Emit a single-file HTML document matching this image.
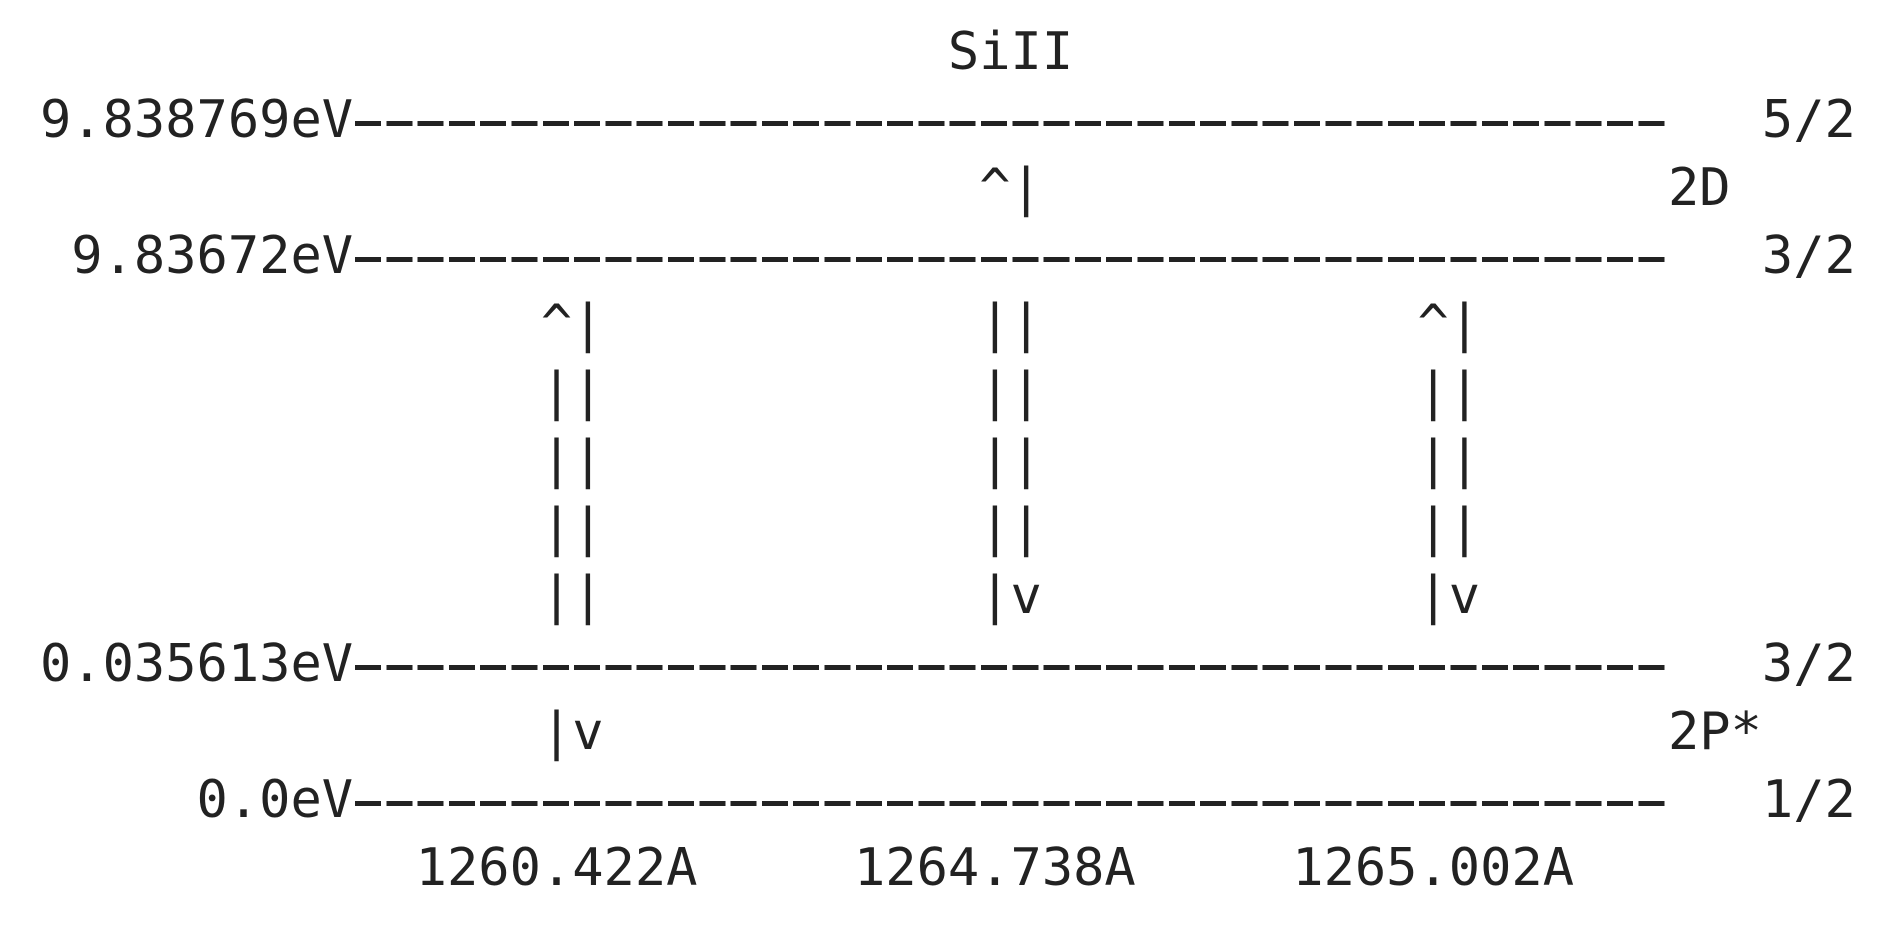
<!DOCTYPE html>
<html>
<head>
<meta charset="utf-8">
<style>
  html, body { margin:0; padding:0; background:#ffffff; width:1886px; height:926px; overflow:hidden; }
  pre {
    position:absolute; left:40px; top:18px; margin:0;
    font-family:"DejaVu Sans Mono", "Liberation Mono", monospace;
    font-size:52px; line-height:68px; color:#222222;
  }
  .d {
    color:transparent;
    background-image:repeating-linear-gradient(90deg, transparent 0 2px, #222 2px 28px, transparent 28px 31.3px);
    background-size:100% 5px;
    background-position:0 31px;
    background-repeat:no-repeat;
  }
</style>
</head>
<body>
<pre><span>                             SiII</span>
<span>9.838769eV<span class="d">------------------------------------------</span>   5/2</span>
<span>                              ^|                    2D</span>
<span> 9.83672eV<span class="d">------------------------------------------</span>   3/2</span>
                ^|            ||            ^|
                ||            ||            ||
                ||            ||            ||
                ||            ||            ||
                ||            |v            |v
<span>0.035613eV<span class="d">------------------------------------------</span>   3/2</span>
<span>                |v                                  2P*</span>
<span>     0.0eV<span class="d">------------------------------------------</span>   1/2</span>
<span>            1260.422A     1264.738A     1265.002A</span></pre>
</body>
</html>
